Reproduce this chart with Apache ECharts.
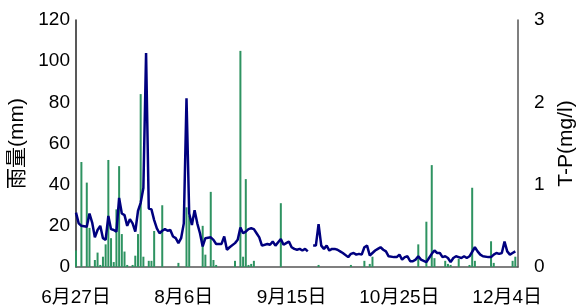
<!DOCTYPE html>
<html>
<head>
<meta charset="utf-8">
<script src="https://cdn.jsdelivr.net/npm/echarts@6/dist/echarts.min.js"></script>
<style>
html,body{margin:0;padding:0;background:#fff;}
#chart{width:576px;height:306px;}
</style>
</head>
<body>
<div id="chart"></div>
<script>
// Day offsets are counted from 6月27日 (day 0)
const xTickDays = [0, 40, 80, 120, 160];
const xTickLabels = ['6月27日', '8月6日', '9月15日', '10月25日', '12月4日'];

const rainDays = [0,2,4,5,7,8,9,10,11,12,13,14,15,16,17,18,19,21,22,23,24,25,27,28,29,32,38,41,42,47,48,50,51,52,59,61,62,63,64,65,66,76,90,102,107,109,110,127,130,132,133,137,138,139,142,146,147,148,154,155,162,163];
const rainValues = [8,51,41,19,3.4,7,1,5,11,52,14,2.4,28,49,16,7.5,1,1,5.5,16,84,5,3,3,17.5,30,2,29,25,20,6,36.5,3.4,1,3,105,5,42.7,1,1.5,3,31,1,1,3,1.5,5,11,22,49.5,4.3,3,1.5,1,4,1,38.5,3,12.5,2,3,5];

const tpDays = [0,1,2,4,5,6,7,8,9,10,11,12,13,14,15,16,17,18,19,20,21,22,23,24,25,26,27,28,29,30,31,32,33,34,35,36,37,38,39,40,41,42,43,44,45,46,47,48,50,51,52,54,55,56,57,59,60,61,62,63,64,65,66,67,68,69,71,72,73,74,76,77,78,79,80,81,82,83,84,85,86,87,88,89,90,91,92,93,94,95,96,97,98,99,101,102,103,104,105,106,107,108,109,111,112,113,114,115,116,118,119,120,121,122,123,124,125,126,127,128,130,131,132,133,134,135,136,137,138,139,140,141,142,143,144,145,146,148,149,150,151,153,154,155,156,157,158,159,160,161,162,163];
const tpValues = [0.66,0.53,0.50,0.49,0.65,0.54,0.36,0.45,0.50,0.35,0.33,0.62,0.46,0.45,0.43,0.84,0.65,0.63,0.50,0.58,0.53,0.43,0.68,0.78,0.96,2.6,0.71,0.70,0.57,0.47,0.41,0.44,0.46,0.44,0.45,0.37,0.35,0.29,0.35,0.53,2.05,0.65,0.51,0.69,0.53,0.41,0.25,0.35,0.36,0.33,0.28,0.28,0.37,0.21,0.24,0.29,0.33,0.48,0.41,0.43,0.46,0.47,0.46,0.41,0.36,0.26,0.28,0.27,0.31,0.26,0.34,0.27,0.29,0.31,0.24,0.22,0.21,0.22,0.20,0.22,0.19,'-',0.26,0.26,0.52,0.26,0.22,0.26,0.20,0.22,0.22,0.21,0.19,0.17,0.12,0.16,0.17,0.15,0.16,0.15,0.24,0.26,0.14,0.20,0.22,0.24,0.21,0.19,0.13,0.12,0.12,0.15,0.09,0.12,0.13,0.07,0.07,0.09,0.13,0.09,0.06,0.11,0.16,0.20,0.17,0.17,0.12,0.13,0.11,0.06,0.11,0.13,0.12,0.11,0.13,0.11,0.13,0.24,0.19,0.15,0.13,0.12,0.12,0.15,0.17,0.16,0.17,0.31,0.19,0.15,0.17,0.19];

const leftName = '雨量(mm)';
const rightName = 'T-P(mg/l)';

const FONT = '"Liberation Sans", Arial, "Noto Sans CJK JP", sans-serif';

const chart = echarts.init(document.getElementById('chart'), null, {renderer: 'canvas'});
chart.setOption({
  animation: false,
  backgroundColor: '#ffffff',
  grid: {left: 76, right: 58, top: 20, bottom: 39, containLabel: false, outerBoundsMode: 'none'},
  xAxis: {
    type: 'value',
    min: 0,
    max: 164,
    splitLine: {show: false},
    axisTick: {show: false},
    axisLine: {show: true, onZero: false, lineStyle: {color: '#555', width: 1.5}},
    axisLabel: {
      customValues: xTickDays,
      formatter: function (v) { const i = xTickDays.indexOf(v); return i >= 0 ? xTickLabels[i] : ''; },
      color: '#000', fontFamily: FONT, fontSize: 19, margin: 21
    }
  },
  yAxis: [
    {
      type: 'value', min: 0, max: 120, interval: 20,
      position: 'left',
      name: leftName, nameLocation: 'middle', nameGap: 45, nameRotate: 90,
      nameTextStyle: {color: '#000', fontFamily: FONT, fontSize: 21},
      splitLine: {show: false},
      axisTick: {show: false},
      axisLine: {show: true, lineStyle: {color: '#222', width: 1.5}},
      axisLabel: {color: '#000', fontFamily: FONT, fontSize: 19, margin: 6}
    },
    {
      type: 'value', min: 0, max: 3, interval: 1,
      position: 'right',
      name: rightName, nameLocation: 'middle', nameGap: 28, nameRotate: 90,
      nameTextStyle: {color: '#000', fontFamily: FONT, fontSize: 21},
      splitLine: {show: false},
      axisTick: {show: false},
      axisLine: {show: true, lineStyle: {color: '#555', width: 1.5}},
      axisLabel: {color: '#000', fontFamily: FONT, fontSize: 19, margin: 16}
    }
  ],
  series: [
    {
      name: leftName,
      type: 'bar',
      yAxisIndex: 0,
      barWidth: 2,
      itemStyle: {color: '#2e9361'},
      data: rainDays.map((d, i) => [d, rainValues[i]])
    },
    {
      name: rightName,
      type: 'line',
      yAxisIndex: 1,
      symbol: 'none',
      connectNulls: false,
      lineStyle: {color: '#00007f', width: 2.5},
      data: tpDays.map((d, i) => [d, tpValues[i]])
    }
  ]
});
</script>
</body>
</html>
